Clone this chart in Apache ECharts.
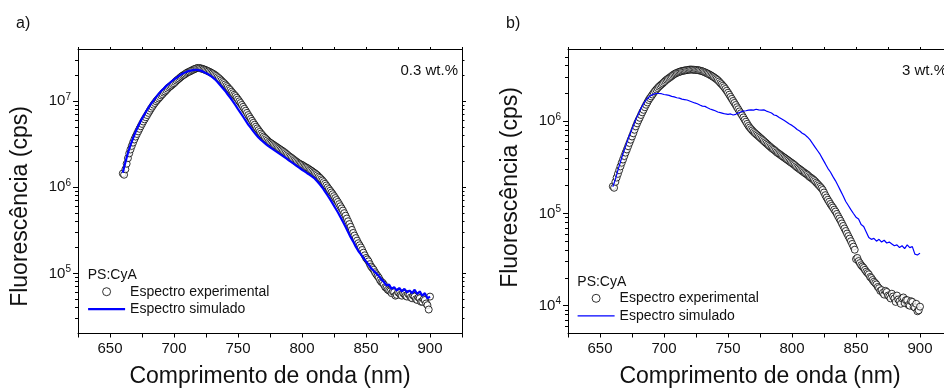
<!DOCTYPE html>
<html><head><meta charset="utf-8">
<script src="https://cdn.jsdelivr.net/npm/echarts@6/dist/echarts.min.js"></script>
<style>html,body{margin:0;padding:0;background:#fff}#c{width:944px;height:390px}</style>
</head><body><div id="c"></div>
<script>
// wavelength grid of the experimental points (nm)
const waveExp = [
 660,661,662,663,664,665,666,667,668,669,670,671,672,673,674,675,676,677,678,679,
 680,681,682,683,684,685,686,687,688,689,690,691,692,693,694,695,696,697,698,699,
 700,701,702,703,704,705,706,707,708,709,710,711,712,713,714,715,716,717,718,719,
 720,721,722,723,724,725,726,727,728,729,730,731,732,733,734,735,736,737,738,739,
 740,741,742,743,744,745,746,747,748,749,750,751,752,753,754,755,756,757,758,759,
 760,761,762,763,764,765,766,767,768,769,770,771,772,773,774,775,776,777,778,779,
 780,781,782,783,784,785,786,787,788,789,790,791,792,793,794,795,796,797,798,799,
 800,801,802,803,804,805,806,807,808,809,810,811,812,813,814,815,816,817,818,819,
 820,821,822,823,824,825,826,827,828,829,830,831,832,833,834,835,836,837,838,839,
 840,841,842,843,844,845,846,847,848,849,850,851,852,853,854,855,856,857,858,859,
 860,861,862,863,864,865,866,867,868,869,870,871,872,873,874,875,876,877,878,879,
 880,881,882,883,884,885,886,887,888,889,890,891,892,893,894,895,896,897,898,899,
 900];
// wavelength grid of the simulated spectra (nm)
const waveSim = [
 660,662,664,666,668,670,672,674,676,678,
 680,682,684,686,688,690,692,694,696,698,
 700,702,704,706,708,710,712,714,716,718,
 720,722,724,726,728,730,732,734,736,738,
 740,742,744,746,748,750,752,754,756,758,
 760,762,764,766,768,770,772,774,776,778,
 780,782,784,786,788,790,792,794,796,798,
 800,802,804,806,808,810,812,814,816,818,
 820,822,824,826,828,830,832,834,836,838,
 840,842,844,846,848,850,852,854,856,858,
 860,862,864,866,868,870,872,874,876,878,
 880,882,884,886,888,890,892,894,896,898,
 900];
// panel a) 0.3 wt.%  (cps)
const expA = [
 1.45e6,1.40e6,1.62e6,1.88e6,2.18e6,2.48e6,2.75e6,3.03e6,3.31e6,3.60e6,3.89e6,4.17e6,4.47e6,4.79e6,5.13e6,5.46e6,5.82e6,6.17e6,6.53e6,6.92e6,
 7.33e6,7.76e6,8.22e6,8.66e6,9.12e6,9.55e6,1.00e7,1.04e7,1.08e7,1.12e7,1.17e7,1.21e7,1.26e7,1.30e7,1.35e7,1.40e7,1.45e7,1.49e7,1.53e7,1.58e7,
 1.62e7,1.68e7,1.74e7,1.79e7,1.84e7,1.90e7,1.95e7,2.00e7,2.04e7,2.09e7,2.14e7,2.18e7,2.21e7,2.25e7,2.29e7,2.33e7,2.37e7,2.40e7,2.43e7,2.44e7,
 2.43e7,2.41e7,2.39e7,2.36e7,2.33e7,2.30e7,2.26e7,2.23e7,2.19e7,2.15e7,2.11e7,2.07e7,2.02e7,1.97e7,1.91e7,1.86e7,1.80e7,1.74e7,1.68e7,1.63e7,
 1.57e7,1.51e7,1.46e7,1.40e7,1.35e7,1.29e7,1.24e7,1.19e7,1.15e7,1.10e7,1.05e7,1.00e7,9.55e6,9.07e6,8.61e6,8.18e6,7.76e6,7.33e6,6.92e6,6.57e6,
 6.24e6,5.92e6,5.62e6,5.34e6,5.07e6,4.84e6,4.62e6,4.41e6,4.22e6,4.05e6,3.89e6,3.76e6,3.63e6,3.51e6,3.39e6,3.31e6,3.24e6,3.16e6,3.09e6,3.02e6,
 2.95e6,2.88e6,2.82e6,2.75e6,2.69e6,2.63e6,2.57e6,2.50e6,2.43e6,2.36e6,2.29e6,2.24e6,2.19e6,2.13e6,2.07e6,2.02e6,1.97e6,1.92e6,1.88e6,1.85e6,
 1.82e6,1.78e6,1.74e6,1.71e6,1.68e6,1.64e6,1.60e6,1.57e6,1.53e6,1.49e6,1.46e6,1.42e6,1.38e6,1.33e6,1.29e6,1.24e6,1.20e6,1.15e6,1.10e6,1.05e6,
 1.00e6,9.55e5,9.12e5,8.71e5,8.32e5,7.90e5,7.50e5,7.12e5,6.76e5,6.38e5,6.03e5,5.69e5,5.37e5,5.01e5,4.68e5,4.34e5,4.03e5,3.74e5,3.47e5,3.20e5,
 2.95e5,2.75e5,2.57e5,2.40e5,2.24e5,2.12e5,2.00e5,1.87e5,1.74e5,1.62e5,1.51e5,1.45e5,1.38e5,1.28e5,1.20e5,1.15e5,1.10e5,1.03e5,9.77e4,9.33e4,
 8.91e4,8.32e4,7.94e4,7.76e4,7.41e4,6.92e4,6.76e4,6.46e4,6.31e4,6.17e4,5.89e4,6.17e4,6.03e4,5.50e4,5.62e4,6.03e4,5.89e4,5.62e4,5.50e4,5.89e4,
 5.75e4,5.50e4,5.37e4,5.75e4,5.62e4,5.25e4,5.13e4,5.50e4,5.37e4,5.01e4,4.90e4,5.25e4,5.13e4,4.68e4,4.68e4,5.01e4,4.90e4,4.47e4,4.27e4,3.80e4,
 5.37e4];
const simA = [
 1.48e6,1.95e6,2.51e6,3.09e6,3.72e6,4.42e6,5.13e6,5.89e6,6.68e6,7.50e6,
 8.41e6,9.33e6,1.02e7,1.12e7,1.22e7,1.32e7,1.41e7,1.51e7,1.60e7,1.70e7,
 1.80e7,1.88e7,1.97e7,2.07e7,2.14e7,2.21e7,2.26e7,2.29e7,2.32e7,2.32e7,
 2.29e7,2.24e7,2.16e7,2.09e7,2.00e7,1.91e7,1.80e7,1.68e7,1.55e7,1.43e7,
 1.32e7,1.20e7,1.10e7,1.00e7,9.02e6,8.13e6,7.33e6,6.61e6,5.96e6,5.37e6,
 4.90e6,4.47e6,4.12e6,3.80e6,3.55e6,3.35e6,3.16e6,2.99e6,2.85e6,2.72e6,
 2.60e6,2.48e6,2.37e6,2.26e6,2.16e6,2.04e6,1.95e6,1.86e6,1.76e6,1.68e6,
 1.60e6,1.53e6,1.46e6,1.40e6,1.33e6,1.26e6,1.17e6,1.08e6,9.89e5,8.91e5,
 8.04e5,7.24e5,6.46e5,5.75e5,5.13e5,4.52e5,3.98e5,3.47e5,3.02e5,2.63e5,
 2.34e5,2.04e5,1.82e5,1.66e5,1.51e5,1.38e5,1.26e5,1.15e5,1.07e5,1.00e5,
 9.33e4,8.51e4,7.94e4,7.24e4,7.41e4,6.61e4,6.92e4,6.31e4,6.76e4,6.17e4,
 6.61e4,6.03e4,6.31e4,5.89e4,6.46e4,5.75e4,6.17e4,5.50e4,5.89e4,5.13e4,
 5.37e4];
// panel b) 3 wt.%  (cps)
const expB = [
 1.97e5,1.90e5,2.20e5,2.45e5,2.69e5,2.95e5,3.24e5,3.55e5,3.85e5,4.20e5,4.57e5,4.95e5,5.37e5,5.82e5,6.31e5,6.84e5,7.41e5,8.09e5,8.81e5,9.50e5,
 1.02e6,1.09e6,1.17e6,1.25e6,1.33e6,1.42e6,1.51e6,1.60e6,1.70e6,1.78e6,1.86e6,1.95e6,2.04e6,2.13e6,2.21e6,2.29e6,2.37e6,2.44e6,2.51e6,2.58e6,
 2.66e6,2.74e6,2.82e6,2.88e6,2.95e6,3.02e6,3.09e6,3.17e6,3.24e6,3.30e6,3.35e6,3.39e6,3.43e6,3.47e6,3.51e6,3.53e6,3.55e6,3.57e6,3.59e6,3.61e6,
 3.63e6,3.64e6,3.63e6,3.62e6,3.61e6,3.60e6,3.59e6,3.57e6,3.55e6,3.52e6,3.48e6,3.44e6,3.39e6,3.34e6,3.29e6,3.24e6,3.18e6,3.12e6,3.06e6,3.00e6,
 2.93e6,2.86e6,2.79e6,2.70e6,2.60e6,2.52e6,2.43e6,2.34e6,2.24e6,2.14e6,2.04e6,1.94e6,1.84e6,1.75e6,1.66e6,1.58e6,1.50e6,1.42e6,1.35e6,1.28e6,
 1.22e6,1.16e6,1.10e6,1.04e6,9.89e5,9.38e5,8.91e5,8.55e5,8.22e5,7.94e5,7.67e5,7.45e5,7.24e5,7.04e5,6.84e5,6.65e5,6.46e5,6.28e5,6.10e5,5.92e5,
 5.75e5,5.59e5,5.43e5,5.28e5,5.13e5,5.01e5,4.90e5,4.76e5,4.62e5,4.52e5,4.42e5,4.32e5,4.22e5,4.12e5,4.03e5,3.94e5,3.85e5,3.76e5,3.67e5,3.59e5,
 3.51e5,3.43e5,3.35e5,3.25e5,3.16e5,3.09e5,3.02e5,2.95e5,2.88e5,2.81e5,2.75e5,2.69e5,2.63e5,2.55e5,2.48e5,2.43e5,2.37e5,2.31e5,2.24e5,2.16e5,
 2.09e5,2.02e5,1.95e5,1.88e5,1.80e5,1.69e5,1.58e5,1.49e5,1.41e5,1.34e5,1.27e5,1.21e5,1.16e5,1.10e5,1.05e5,9.90e4,9.33e4,8.81e4,8.32e4,7.80e4,
 7.33e4,6.88e4,6.46e4,6.06e4,5.69e4,5.34e4,5.01e4,4.68e4,4.37e4,4.05e4,3.20e4,3.30e4,3.05e4,2.90e4,2.75e4,2.66e4,2.57e4,2.45e4,2.34e4,2.26e4,
 2.19e4,2.05e4,2.00e4,1.90e4,1.82e4,1.76e4,1.70e4,1.60e4,1.55e4,1.45e4,1.48e4,1.38e4,1.32e4,1.45e4,1.41e4,1.29e4,1.26e4,1.20e4,1.35e4,1.26e4,
 1.20e4,1.10e4,1.29e4,1.17e4,1.12e4,1.05e4,1.20e4,1.23e4,1.07e4,1.15e4,1.15e4,1.02e4,1.00e4,1.12e4,1.10e4,9.77e3,9.55e3,1.05e4,8.71e3,8.91e3,
 9.77e3];
const simB = [
 1.95e5,2.34e5,2.95e5,3.63e5,4.47e5,5.37e5,6.46e5,7.59e5,8.91e5,1.05e6,
 1.20e6,1.38e6,1.55e6,1.70e6,1.82e6,1.91e6,1.97e6,2.00e6,2.00e6,1.99e6,
 1.95e6,1.93e6,1.91e6,1.86e6,1.84e6,1.80e6,1.78e6,1.74e6,1.72e6,1.70e6,
 1.66e6,1.62e6,1.58e6,1.55e6,1.50e6,1.46e6,1.45e6,1.40e6,1.36e6,1.33e6,
 1.30e6,1.26e6,1.24e6,1.22e6,1.20e6,1.19e6,1.20e6,1.17e6,1.19e6,1.23e6,
 1.26e6,1.29e6,1.30e6,1.32e6,1.33e6,1.32e6,1.35e6,1.33e6,1.32e6,1.33e6,
 1.29e6,1.26e6,1.23e6,1.17e6,1.15e6,1.10e6,1.06e6,1.02e6,9.77e5,9.33e5,
 9.02e5,8.61e5,8.13e5,7.85e5,7.41e5,7.16e5,6.76e5,6.31e5,5.75e5,5.25e5,
 4.79e5,4.37e5,3.89e5,3.47e5,3.09e5,2.82e5,2.51e5,2.26e5,2.00e5,1.76e5,
 1.55e5,1.35e5,1.22e5,1.10e5,1.00e5,9.12e4,8.71e4,7.59e4,7.24e4,6.31e4,
 5.50e4,5.25e4,5.37e4,5.01e4,5.25e4,4.90e4,5.13e4,4.79e4,4.90e4,4.68e4,
 4.47e4,4.57e4,4.27e4,4.47e4,4.17e4,4.57e4,4.27e4,4.37e4,3.63e4,3.55e4,
 3.72e4];
// tick values
const majorTicksA = [1e5, 1e6, 1e7];
const minorTicksA = [3e4,4e4,5e4,6e4,7e4,8e4,9e4,2e5,3e5,4e5,5e5,6e5,7e5,8e5,9e5,
                     2e6,3e6,4e6,5e6,6e6,7e6,8e6,9e6,2e7,3e7];
const majorTicksB = [1e4, 1e5, 1e6];
const minorTicksB = [6e3,7e3,8e3,9e3,2e4,3e4,4e4,5e4,6e4,7e4,8e4,9e4,
                     2e5,3e5,4e5,5e5,6e5,7e5,8e5,9e5,2e6,3e6,4e6,5e6];
const xLabelValues = [650, 700, 750, 800, 850, 900];
const seriesNames = ['Espectro experimental', 'Espectro simulado'];
const xTitle = 'Comprimento de onda (nm)';
const yTitle = 'Fluorescência (cps)';

const FONT = '"Liberation Sans", Arial, Helvetica, sans-serif';
const TXT = '#111';
const pairs = (xs, ys) => ys.map((v, i) => [xs[i], v]);

function xAxes(g) {
  const base = {type:'value', gridIndex:g, min:625, max:925, interval:25,
    splitLine:{show:false}, axisLine:{show:true, onZero:false, lineStyle:{color:'#000', width:1}}};
  return [
    Object.assign({}, base, {position:'bottom',
      axisTick:{show:true, inside:false, length:4, lineStyle:{color:'#000'}},
      axisLabel:{show:true, margin:8, fontSize:15, color:TXT, fontFamily:FONT,
        formatter: v => xLabelValues.indexOf(v) >= 0 ? String(v) : ''},
      name:xTitle, nameLocation:'middle', nameGap:32,
      nameTextStyle:{fontSize:23, color:TXT, fontFamily:FONT}}),
    Object.assign({}, base, {position:'top',
      axisTick:{show:true, inside:false, length:2.5, lineStyle:{color:'#000'}},
      axisLabel:{show:false}})
  ];
}
function yAxes(g, min, max, major, minor, namePad) {
  const base = {type:'log', logBase:10, gridIndex:g, min:min, max:max,
    splitLine:{show:false}, axisLine:{show:true, onZero:false, lineStyle:{color:'#000', width:1}}};
  return [
    Object.assign({}, base, {position:'left',
      axisTick:{show:true, inside:false, length:5, customValues:major, lineStyle:{color:'#000'}},
      axisLabel:{show:true, customValues:major, margin:7, color:TXT, fontFamily:FONT,
        formatter: v => '{b|10}{s|' + Math.round(Math.log10(v)) + '}',
        rich:{b:{fontSize:15, color:TXT, fontFamily:FONT},
              s:{fontSize:10, color:TXT, fontFamily:FONT, padding:[0,0,9,0]}}},
      name:yTitle, nameLocation:'middle', nameGap:46,
      nameTextStyle:{fontSize:23, color:TXT, fontFamily:FONT, padding:namePad}}),
    Object.assign({}, base, {position:'left', axisLine:{show:false},
      axisTick:{show:true, inside:false, length:3, customValues:minor, lineStyle:{color:'#000'}},
      axisLabel:{show:false}}),
    Object.assign({}, base, {position:'right',
      axisTick:{show:true, inside:false, length:4, customValues:major, lineStyle:{color:'#000'}},
      axisLabel:{show:false}}),
    Object.assign({}, base, {position:'right', axisLine:{show:false},
      axisTick:{show:true, inside:false, length:2.5, customValues:minor, lineStyle:{color:'#000'}},
      axisLabel:{show:false}})
  ];
}
function legendFor(left, top, lineW) {
  return {left:left, top:top, orient:'vertical', padding:0, itemWidth:37, itemHeight:8, itemGap:3.5,
    selectedMode:false, textStyle:{fontSize:14, color:TXT, fontFamily:FONT},
    data:[
      {name:seriesNames[0], icon:'circle', itemStyle:{color:'#fff', borderColor:'#000', borderWidth:1}},
      {name:seriesNames[1], itemStyle:{opacity:0}, lineStyle:{width:lineW, color:'#0000ff'}}
    ]};
}
function seriesFor(xi, yi, exp, sim, lineW) {
  return [
    {type:'scatter', name:seriesNames[0], xAxisIndex:xi, yAxisIndex:yi, data:pairs(waveExp, exp),
     symbol:'circle', symbolSize:7, itemStyle:{color:'#fff', borderColor:'#000', borderWidth:1},
     z:2, silent:true, animation:false},
    {type:'line', name:seriesNames[1], xAxisIndex:xi, yAxisIndex:yi, data:pairs(waveSim, sim),
     symbol:'none', showSymbol:false, lineStyle:{color:'#0000ff', width:lineW},
     itemStyle:{color:'#0000ff'}, z:3, silent:true, animation:false}
  ];
}
function txt(x, y, text, size, align) {
  return {type:'text', x:x, y:y, silent:true,
    style:{text:text, fill:TXT, font: size + 'px ' + FONT, align:align || 'left', verticalAlign:'middle'}};
}

const chart = echarts.init(document.getElementById('c'), null, {renderer:'canvas'});
chart.setOption({
  animation:false,
  backgroundColor:'#fff',
  textStyle:{fontFamily:FONT},
  grid:[
    {left:78, top:49.5, width:384, height:284, containLabel:false, outerBoundsMode:'none'},
    {left:568, top:49.5, width:384, height:284, containLabel:false, outerBoundsMode:'none'}
  ],
  xAxis: xAxes(0).concat(xAxes(1)),
  yAxis: yAxes(0, 2e4, 4e7, majorTicksA, minorTicksA, [0,30,0,0])
         .concat(yAxes(1, 5e3, 6e6, majorTicksB, minorTicksB, [0,0,0,8])),
  legend:[legendFor(87, 284.7, 2.2), legendFor(577, 291.3, 1.2)],
  series: seriesFor(0, 0, expA, simA, 2.2).concat(seriesFor(2, 4, expB, simB, 1.2)),
  graphic:[
    txt(16, 24, 'a)', 16), txt(506, 24, 'b)', 16),
    txt(458, 70.5, '0.3 wt.%', 15, 'right'), txt(947, 70.5, '3 wt.%', 15, 'right'),
    txt(87.7, 275, 'PS:CyA', 14), txt(577.3, 281.7, 'PS:CyA', 14)
  ]
});
</script></body></html>
